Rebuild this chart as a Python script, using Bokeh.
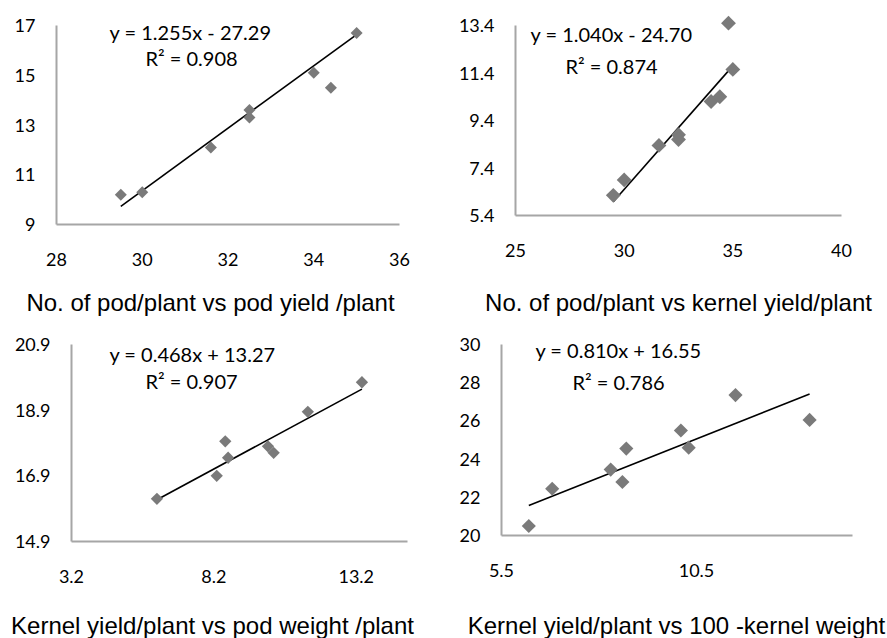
import numpy as np
from bokeh.plotting import figure
from bokeh.layouts import column, row
from bokeh.models import FixedTicker, Label
from bokeh.embed import file_html
from bokeh.resources import INLINE

# ---------------- data ----------------
p1_x = [29.5, 30.0, 31.6, 32.5, 32.5, 34.0, 34.4, 35.0]
p1_y = [10.2, 10.3, 12.1, 13.6, 13.3, 15.1, 14.5, 16.7]
p1_slope, p1_intercept, p1_r2 = 1.255, -27.29, 0.908
p1_xticks = [28, 30, 32, 34, 36]
p1_yticks = [9, 11, 13, 15, 17]
p1_title = "No. of pod/plant vs pod yield /plant"

p2_x = [29.5, 30.0, 31.6, 32.5, 32.5, 34.0, 34.4, 34.8, 35.0]
p2_y = [6.25, 6.9, 8.35, 8.8, 8.6, 10.2, 10.4, 13.5, 11.55]
p2_slope, p2_intercept, p2_r2 = 1.040, -24.70, 0.874
p2_xticks = [25, 30, 35, 40]
p2_yticks = [5.4, 7.4, 9.4, 11.4, 13.4]
p2_title = "No. of pod/plant vs kernel yield/plant"

p3_x = [6.2, 8.3, 8.6, 8.7, 10.1, 10.3, 11.5, 13.4]
p3_y = [16.2, 16.9, 17.95, 17.45, 17.8, 17.6, 18.85, 19.75]
p3_slope, p3_intercept, p3_r2 = 0.468, 13.27, 0.907
p3_xticks = [3.2, 8.2, 13.2]
p3_yticks = [14.9, 16.9, 18.9, 20.9]
p3_title = "Kernel yield/plant vs pod weight /plant"

p4_x = [6.2, 6.8, 8.3, 8.6, 8.7, 10.1, 10.3, 11.5, 13.4]
p4_y = [20.5, 22.45, 23.45, 22.8, 24.55, 25.5, 24.6, 27.35, 26.05]
p4_slope, p4_intercept, p4_r2 = 0.810, 16.55, 0.786
p4_xticks = [5.5, 10.5]
p4_yticks = [20, 22, 24, 26, 28, 30]
p4_title = "Kernel yield/plant vs 100 -kernel weight"

TICK_FONT = "Lato"
TITLE_FONT = "Liberation Sans"
MARK = "#7a7a7a"
AXIS = "#a6a6a6"


def panel(xs, ys, slope, intercept, r2, xticks, yticks, title,
          xb, yb, fig, frame, eq_pos, title_pos, msize):
    fx, fy, fw, fh = fig
    L, R, T, B = frame
    # the plotting frame fills the whole figure; axes sit at fixed data locations
    kx = (R - L) / (xb[1] - xb[0])
    ky = (B - T) / (yb[1] - yb[0])
    xr = (xb[0] - (L - fx) / kx, xb[1] + (fx + fw - R) / kx)
    yr = (yb[0] - (fy + fh - B) / ky, yb[1] + (T - fy) / ky)
    p = figure(width=fw, height=fh, x_range=xr, y_range=yr,
               output_backend="svg", toolbar_location=None,
               min_border=0)
    p.outline_line_color = None
    p.grid.visible = False
    p.background_fill_color = "white"
    p.border_fill_color = "white"
    for ax in (p.xaxis[0], p.yaxis[0]):
        ax.axis_line_color = AXIS
        ax.axis_line_width = 2
        ax.major_tick_line_color = None
        ax.minor_tick_line_color = None
        ax.major_tick_in = 0
        ax.major_tick_out = 0
        ax.major_label_text_font = TICK_FONT
        ax.major_label_text_font_size = "18px"
        ax.major_label_text_color = "black"
    p.xaxis[0].fixed_location = yb[0]
    p.yaxis[0].fixed_location = xb[0]
    p.xaxis[0].bounds = xb
    p.yaxis[0].bounds = yb
    p.xaxis[0].ticker = FixedTicker(ticks=xticks)
    p.yaxis[0].ticker = FixedTicker(ticks=yticks)
    p.xaxis[0].major_label_standoff = 28
    p.yaxis[0].major_label_standoff = 21

    lx = np.array([min(xs), max(xs)])
    p.line(lx, slope * lx + intercept, line_color="black", line_width=1.6)
    p.scatter(xs, ys, marker="square", angle=np.pi / 4, size=msize,
              fill_color=MARK, line_color=None)

    sign = "+" if intercept >= 0 else "-"
    eq = f"y = {slope:.3f}x {sign} {abs(intercept):.2f}"
    rr = f"R\u00b2 = {r2:.3f}"
    (e1x, e1y), (e2x, e2y) = eq_pos
    for txt, ax_, ay_ in ((eq, e1x, e1y), (rr, e2x, e2y)):
        p.add_layout(Label(x=ax_ - fx, y=fy + fh - ay_, x_units="screen", y_units="screen",
                           text=txt, text_align="center", text_baseline="middle",
                           text_font=TICK_FONT, text_font_size="20px", text_color="black"))
    tx, ty = title_pos
    p.add_layout(Label(x=tx - fx, y=fy + fh - ty, x_units="screen", y_units="screen",
                       text=title, text_align="center", text_baseline="middle",
                       text_font=TITLE_FONT, text_font_size="24px", text_color="black"))
    return p


p1 = panel(p1_x, p1_y, p1_slope, p1_intercept, p1_r2, p1_xticks, p1_yticks, p1_title,
           (28, 36), (9, 17), (0, 0, 443, 320), (56, 399, 25, 224),
           ((190, 31), (191, 57)), (210, 302), 8.5)
p2 = panel(p2_x, p2_y, p2_slope, p2_intercept, p2_r2, p2_xticks, p2_yticks, p2_title,
           (25, 40), (5.4, 13.4), (443, 0, 444, 320), (515, 841, 25, 215),
           ((611, 33), (611, 65)), (678, 302), 10.5)
p3 = panel(p3_x, p3_y, p3_slope, p3_intercept, p3_r2, p3_xticks, p3_yticks, p3_title,
           (3.2, 15.0), (14.9, 20.9), (0, 320, 443, 318), (71, 407, 344, 541),
           ((192, 353), (191, 380)), (212, 625), 8.7)
p4 = panel(p4_x, p4_y, p4_slope, p4_intercept, p4_r2, p4_xticks, p4_yticks, p4_title,
           (5.5, 14.5), (20, 30), (443, 320, 444, 318), (501, 852, 344, 535),
           ((618, 349), (618, 381)), (676, 625), 10.0)

layout = column(row(p1, p2), row(p3, p4))
open("out.html", "w").write(file_html(layout, INLINE))
